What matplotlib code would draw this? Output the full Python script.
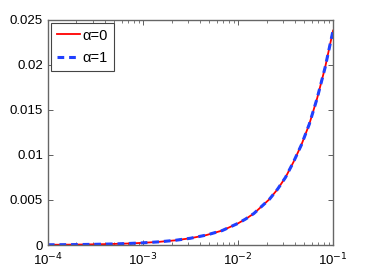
import matplotlib
matplotlib.use('Agg')
import matplotlib.pyplot as plt
from matplotlib.ticker import LogLocator, NullFormatter

plt.rcParams['font.family'] = ['Liberation Sans', 'DejaVu Sans']

# values
x = [1e-4, 1.47e-4, 2.15e-4, 3.16e-4, 4.64e-4, 6.81e-4,
     1e-3, 1.47e-3, 2.15e-3, 3.16e-3, 4.64e-3, 6.81e-3,
     1e-2, 1.21e-2, 1.47e-2, 1.78e-2, 2.15e-2, 2.61e-2, 3.16e-2,
     3.83e-2, 4.64e-2, 5.62e-2, 6.81e-2, 8.25e-2, 1e-1]
y_a0 = [0.000024, 0.000035, 0.000051, 0.000076, 0.00011, 0.00016,
        0.00024, 0.00035, 0.00051, 0.00075, 0.0011, 0.0016,
        0.0024, 0.0029, 0.0035, 0.0043, 0.0051, 0.0062, 0.0075,
        0.0092, 0.0111, 0.0134, 0.0163, 0.0197, 0.0238]
y_a1 = list(y_a0)

yticks = [0, 0.005, 0.01, 0.015, 0.02, 0.025]
ytick_labels = ['0', '0.005', '0.01', '0.015', '0.02', '0.025']
xticks = [1e-4, 1e-3, 1e-2, 1e-1]
xtick_labels = ['10$^{-4}$', '10$^{-3}$', '10$^{-2}$', '10$^{-1}$']

fig = plt.figure(figsize=(3.68, 2.77), dpi=100)
ax = fig.add_axes([0.130, 0.1155, 0.775, 0.813])

ax.plot(x, y_a0, color='red', lw=1.3, label='α=0')
ax.plot(x, y_a1, color='#2040ff', lw=2.2, ls=(0, (2.2, 1.6)), label='α=1')

ax.set_xscale('log')
ax.set_xlim(1e-4, 1e-1)
ax.set_ylim(0, 0.025)
ax.set_xticks(xticks)
ax.set_xticklabels(xtick_labels)
ax.xaxis.set_minor_locator(LogLocator(base=10, subs=range(2, 10)))
ax.xaxis.set_minor_formatter(NullFormatter())
ax.set_yticks(yticks)
ax.set_yticklabels(ytick_labels)

ax.tick_params(which='both', direction='in', top=True, right=True,
               labelsize=9.5, color='#444444')
ax.tick_params(axis='x', pad=5)
ax.tick_params(which='major', length=3.5, width=0.6)
ax.tick_params(which='minor', length=2, width=0.5)
for s in ax.spines.values():
    s.set_color('#666666')
    s.set_linewidth(1.0)

leg = ax.legend(loc='upper left', fontsize=10.5, handlelength=1.6,
                handletextpad=0.2, borderpad=0.4, labelspacing=0.6,
                borderaxespad=0.2, fancybox=False, framealpha=1)
leg.get_frame().set_edgecolor('#444444')
leg.get_frame().set_linewidth(0.8)

fig.savefig('out.png', dpi=100)
